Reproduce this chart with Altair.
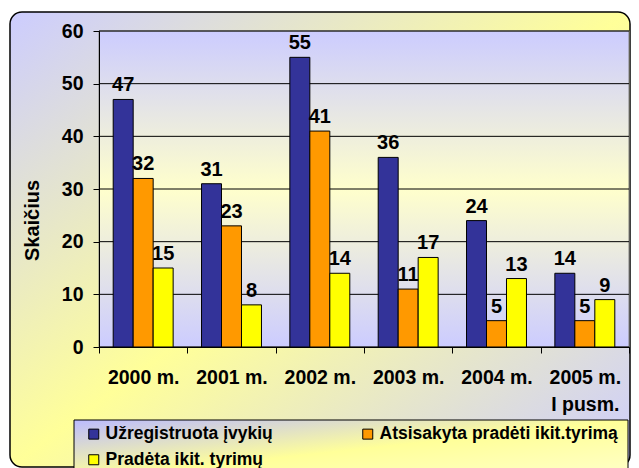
import altair as alt
import pandas as pd

categories = ["2000 m.", "2001 m.", "2002 m.", "2003 m.", "2004 m.", "2005 m.\nI pusm."]
series = ["Užregistruota įvykių", "Atsisakyta pradėti ikit.tyrimą", "Pradėta ikit. tyrimų"]
registered = [47, 31, 55, 36, 24, 14]
refused = [32, 23, 41, 11, 5, 5]
started = [15, 8, 14, 17, 13, 9]
colors = ["#333399", "#FF9900", "#FFFF00"]
y_ticks = [0, 10, 20, 30, 40, 50, 60]

rows = []
for s, vals in zip(series, [registered, refused, started]):
    for c, v in zip(categories, vals):
        rows.append({"cat": c, "series": s, "value": v})
df = pd.DataFrame(rows)

W, H = 530, 316
FONT = "Liberation Sans"

def grad(stops, x1=0, y1=0, x2=1, y2=1):
    return alt.LinearGradient(
        gradient="linear",
        stops=[alt.GradientStop(offset=o, color=c) for o, c in stops],
        x1=x1, y1=y1, x2=x2, y2=y2,
    )

x_enc = alt.X(
    "cat:N", sort=categories,
    scale=alt.Scale(paddingInner=0, paddingOuter=0),
    axis=alt.Axis(
        title=None, labelAngle=0, tickBand="extent",
        labelExpr="split(datum.label, '\\n')", labelLineHeight=27,
        labelPadding=15, tickSize=6, grid=False,
        domainColor="black", tickColor="black",
        labelFontSize=19.5, labelFont=FONT, labelFontWeight="bold",
        labelColor="black", zindex=1,
    ),
)
y_enc = alt.Y(
    "value:Q",
    scale=alt.Scale(domain=[0, 60], nice=False),
    axis=alt.Axis(
        values=y_ticks, title="Skaičius", grid=False,
        domainColor="black", tickColor="black", tickSize=6, labelPadding=10,
        labelFontSize=19.5, labelFont=FONT, labelFontWeight="bold", labelColor="black",
        titleFontSize=20, titleFont=FONT, titleFontWeight="bold", titleColor="black",
        titleX=-67, titleY=189, titleBaseline="middle", titleAlign="center",
        zindex=1,
    ),
)
xo_enc = alt.XOffset("series:N", sort=series, scale=alt.Scale(paddingOuter=0.71, paddingInner=0))

one = pd.DataFrame({"k": [0]})

frame = alt.Chart(one).mark_rect(
    fill=grad([(0, "#CCCCFF"), (0.5, "#FFFF99"), (1, "#CCCCFF")]),
    stroke="black", strokeWidth=1.5, cornerRadius=12,
).encode(x=alt.value(-89), x2=alt.value(531), y=alt.value(-19), y2=alt.value(436))

plotbg = alt.Chart(one).mark_rect(
    fill=grad([(0, "#CCCCFF"), (0.5, "#FFFFCC"), (1, "#CCCCFF")], 0, 0, 0, 1),
    stroke="#808080", strokeWidth=1,
).encode(x=alt.value(0), x2=alt.value("width"), y=alt.value(0), y2=alt.value("height"))

grid = alt.Chart(pd.DataFrame({"value": y_ticks})).mark_rule(color="black", strokeWidth=1).encode(y=y_enc)

bars = alt.Chart(df).mark_bar(stroke="black", strokeWidth=1).encode(
    x=x_enc, xOffset=xo_enc, y=y_enc,
    color=alt.Color(
        "series:N", sort=series,
        scale=alt.Scale(domain=series, range=colors),
        legend=alt.Legend(
            title=None, orient="none", legendX=-14, legendY=394,
            direction="horizontal", columns=2, columnPadding=86, rowPadding=7,
            symbolType="square", symbolSize=100, symbolStrokeColor="black",
            symbolStrokeWidth=1, symbolOpacity=1,
            labelFont=FONT, labelFontSize=17.5, labelFontWeight="bold",
            labelColor="black", labelOffset=3, labelLimit=400, padding=0,
        ),
    ),
)

labels = alt.Chart(df).mark_text(
    baseline="alphabetic", dy=-8, font=FONT, fontSize=20, fontWeight="bold", color="black",
).encode(x=x_enc, xOffset=xo_enc, y=y_enc, text="value:Q")

legbox = alt.Chart(one).mark_rect(
    fill=grad([(0, "#BBBBFF"), (0.5, "#FFFF99"), (1, "#FFFFCC")]),
    stroke="black", strokeWidth=1,
).encode(x=alt.value(-25), x2=alt.value(529), y=alt.value(389), y2=alt.value(449))

chart = alt.layer(frame, plotbg, grid, bars, labels, legbox).properties(
    width=W, height=H,
    autosize=alt.AutoSizeParams(type="none"),
    padding={"left": 91, "top": 23, "right": 2, "bottom": 121},
).configure_view(strokeOpacity=0).configure(background="white")

chart.save("out.html", embed_options={"renderer": "svg", "actions": False})
